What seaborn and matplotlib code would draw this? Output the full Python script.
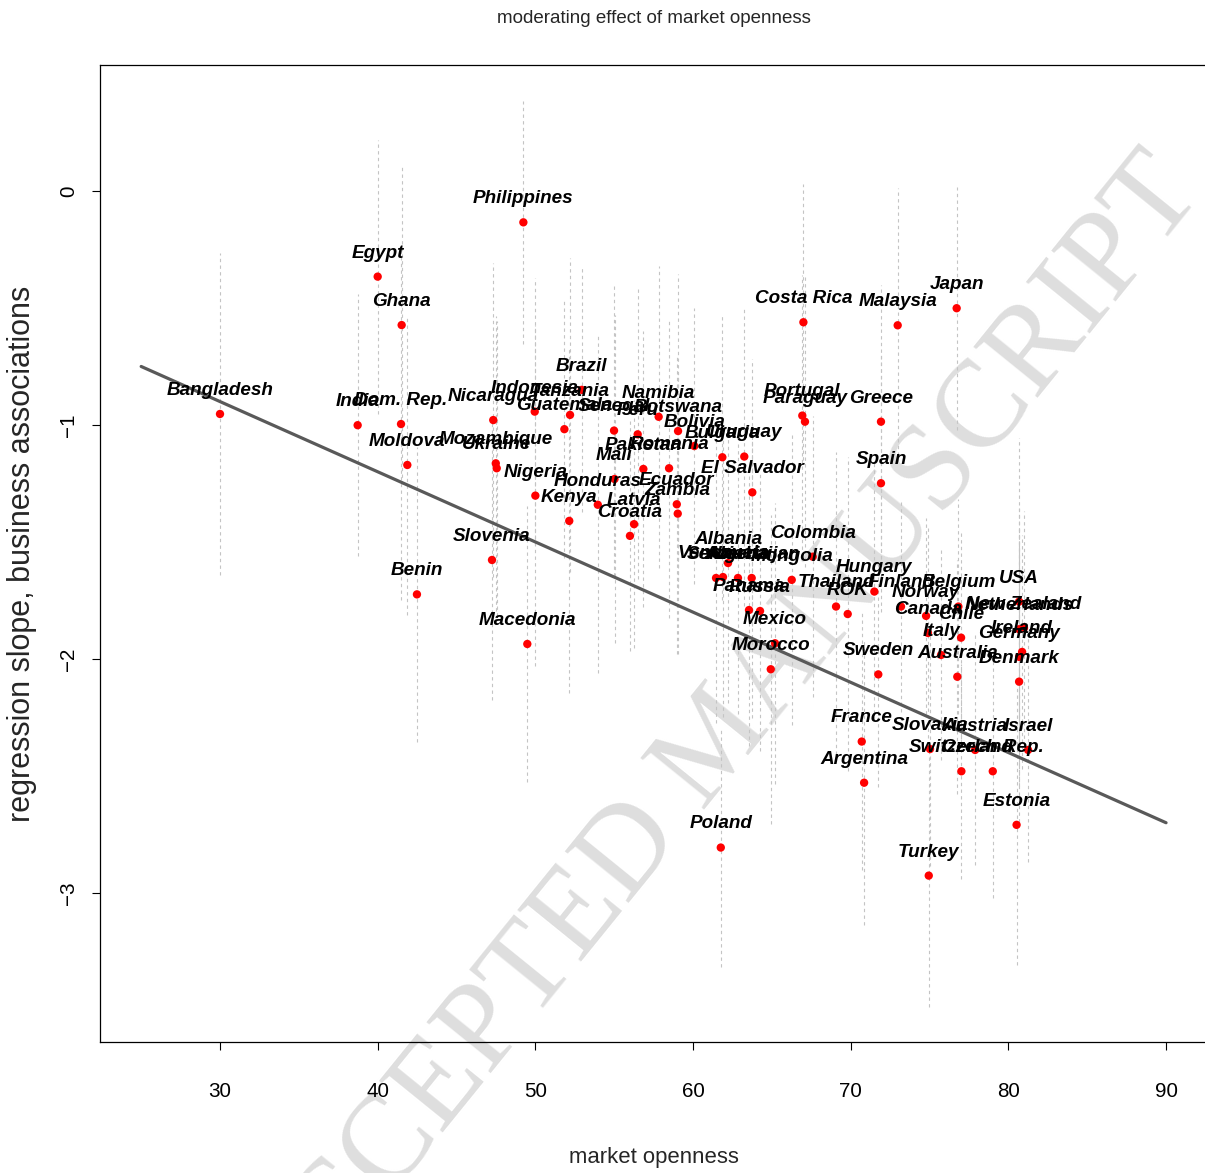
import matplotlib
matplotlib.use("Agg")
import matplotlib.pyplot as plt
import seaborn as sns
import pandas as pd
from matplotlib import font_manager

# country-level estimates
countries = ["Bangladesh", "India", "Egypt", "Ghana", "Dom. Rep.", "Moldova", "Benin", "Nicaragua",
             "Mozambique", "Ukraine", "Slovenia", "Philippines", "Macedonia", "Indonesia", "Nigeria",
             "Guatemala", "Kenya", "Tanzania", "Brazil", "Honduras", "Senegal", "Mali", "Croatia",
             "Latvia", "Peru", "Pakistan", "Namibia", "Romania", "Ecuador", "Zambia", "Botswana",
             "Bolivia", "Bulgaria", "Uruguay", "El Salvador", "Poland", "Albania", "Serbia",
             "Venezuela", "Algeria", "Azerbaijan", "Mongolia", "Colombia", "Panama", "Russia",
             "Mexico", "Morocco", "Costa Rica", "Portugal", "Paraguay", "Thailand", "ROK", "Hungary",
             "Greece", "Spain", "Malaysia", "Japan", "Sweden", "France", "Argentina", "Finland",
             "Norway", "Canada", "Italy", "Belgium", "Chile", "Australia", "Turkey", "Slovakia",
             "Switzerland", "Austria", "Czech Rep.", "Israel", "Estonia", "USA", "New Zealand",
             "Netherlands", "Ireland", "Germany", "Denmark"]

openness = [30.0, 38.73, 40.0, 41.52, 41.48, 41.88, 42.49, 47.33, 47.49, 47.55, 47.25, 49.24, 49.49,
            49.96, 50.0, 51.84, 52.15, 52.20, 52.94, 53.96, 54.99, 55.02, 56.0, 56.26, 56.49, 56.85,
            57.82, 58.48, 58.97, 59.03, 59.05, 60.08, 61.86, 63.25, 63.76, 61.76, 62.22, 61.46, 61.90,
            62.85, 63.72, 66.26, 67.59, 63.55, 64.25, 65.20, 64.93, 67.0, 66.93, 67.10, 69.07, 69.81,
            71.50, 71.92, 71.92, 72.98, 76.72, 71.75, 70.70, 70.85, 73.19, 74.78, 74.90, 75.73, 76.83,
            77.0, 76.76, 74.95, 75.03, 77.02, 77.89, 79.01, 81.25, 80.52, 80.68, 80.99, 80.68, 80.87,
            80.68, 80.68]

slope = [-0.953, -1.001, -0.366, -0.573, -0.996, -1.171, -1.724, -0.979, -1.164, -1.185, -1.577,
         -0.134, -1.936, -0.943, -1.302, -1.018, -1.410, -0.957, -0.850, -1.341, -1.024, -1.231,
         -1.474, -1.424, -1.040, -1.188, -0.965, -1.185, -1.339, -1.379, -1.026, -1.090, -1.138,
         -1.135, -1.288, -2.806, -1.590, -1.654, -1.650, -1.654, -1.654, -1.662, -1.563, -1.791,
         -1.795, -1.933, -2.044, -0.561, -0.960, -0.986, -1.776, -1.808, -1.712, -0.986, -1.249,
         -0.574, -0.501, -2.066, -2.353, -2.529, -1.776, -1.816, -1.889, -1.983, -1.776, -1.909,
         -2.076, -2.926, -2.385, -2.480, -2.389, -2.480, -2.389, -2.709, -1.755, -1.868, -1.873,
         -1.970, -1.991, -2.097]

# half-width of the interval around each slope
ci = [0.69, 0.56, 0.585, 0.68, 0.75, 0.64, 0.63, 0.67, 0.63, 0.63, 0.60, 0.52, 0.59, 0.57, 0.73,
      0.55, 0.735, 0.67, 0.52, 0.72, 0.62, 0.70, 0.49, 0.53, 0.62, 0.59, 0.645, 0.64, 0.64, 0.60,
      0.67, 0.59, 0.61, 0.64, 0.57, 0.51, 0.60, 0.62, 0.60, 0.58, 0.60, 0.62, 0.60, 0.58, 0.60,
      0.60, 0.66, 0.59, 0.60, 0.62, 0.66, 0.67, 0.55, 0.585, 0.55, 0.585, 0.52, 0.48, 0.55, 0.61,
      0.45, 0.42, 0.45, 0.45, 0.46, 0.45, 0.50, 0.56, 0.50, 0.46, 0.49, 0.54, 0.48, 0.60, 0.70,
      0.50, 0.52, 0.50, 0.55, 0.60]

# fitted line
fit_range = [25, 90]
fit_intercept = 0.0
fit_slope = -0.030

x_ticks = [30, 40, 50, 60, 70, 80, 90]
y_ticks = [0, -1, -2, -3]

df = pd.DataFrame({"country": countries, "openness": openness, "slope": slope, "ci": ci})
df["lo"] = df["slope"] - df["ci"]
df["hi"] = df["slope"] + df["ci"]
fit = pd.DataFrame({"openness": fit_range})
fit["slope"] = fit_intercept + fit_slope * fit["openness"]

sns.set_style("white")
names = {f.name for f in font_manager.fontManager.ttflist}
narrow = "Liberation Sans Narrow" in names
fam = ["Liberation Sans Narrow", "Liberation Sans", "DejaVu Sans"] if narrow else ["Liberation Sans", "DejaVu Sans"]
k = 1.0 if narrow else 0.85
plt.rcParams["font.family"] = fam

fig = plt.figure(figsize=(12.05, 11.73), dpi=100)
ax = fig.add_axes([0.083, 0.1117, 0.9187, 0.8329])
ax.patch.set_alpha(0)

# watermark
fig.text(0.597, 0.366, "ACCEPTED MANUSCRIPT", rotation=51, fontsize=89, color="#dedede",
         family=["Liberation Serif", "DejaVu Serif"], ha="center", va="center", zorder=-5)

ax.vlines(df["openness"], df["lo"], df["hi"], colors="#c4c4c4", linestyles=(0, (3, 3)),
          linewidth=0.8, zorder=1)
sns.lineplot(data=fit, x="openness", y="slope", ax=ax, color="#595959", linewidth=2.3, zorder=2)
sns.scatterplot(data=df, x="openness", y="slope", ax=ax, color="#ff0000", s=36,
                edgecolor="none", zorder=3)

for _, r in df.iterrows():
    ax.annotate(r["country"], (r["openness"], r["slope"]), xytext=(0, 17), textcoords="offset points",
                ha="center", va="center", fontsize=16 * k, fontweight="bold", fontstyle="italic",
                color="black", zorder=4)

ax.set_xlim(22.39, 92.6)
ax.set_ylim(-3.637, 0.5385)
ax.set_xticks(x_ticks)
ax.set_yticks(y_ticks)
ax.set_yticklabels(["0", "\u22121", "\u22122", "\u22123"], rotation=90, va="center")
ax.tick_params(axis="x", direction="out", length=6, width=0.8, pad=23, labelsize=17.5 * k,
               bottom=True, colors="black")
ax.tick_params(axis="y", direction="out", length=6, width=0.8, pad=10, labelsize=17.5 * k,
               left=True, colors="black")
for s in ax.spines.values():
    s.set_color("black")
    s.set_linewidth(0.9)

ax.set_xlabel("market openness", fontsize=18.7 * k, labelpad=33)
ax.set_ylabel("regression slope, business associations", fontsize=22, labelpad=16)
fig.text(0.543, 0.984, "moderating effect of market openness", ha="center", va="center",
         fontsize=13.5)

fig.savefig("out.png", dpi=100)
